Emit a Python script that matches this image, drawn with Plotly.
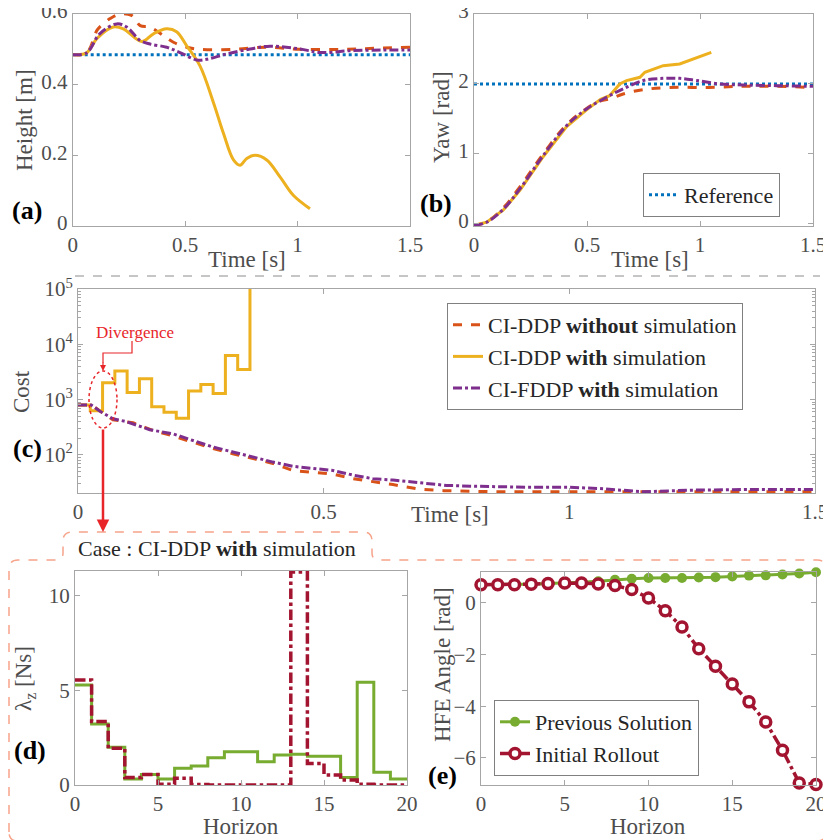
import plotly.graph_objects as go

W, H = 831, 840

# ---------------- (a) height ----------------
t_ref = [0, 1.5]
height_ref = [0.485, 0.485]

t_h_nosim = [0, 0.062, 0.107, 0.12, 0.166, 0.21, 0.262, 0.3, 0.344, 0.403, 0.448, 0.507, 0.566, 0.715, 0.863, 1.01, 1.2, 1.35, 1.5]
h_nosim = [0.485, 0.49, 0.553, 0.563, 0.587, 0.6, 0.596, 0.567, 0.563, 0.539, 0.52, 0.506, 0.5, 0.5, 0.506, 0.5, 0.5, 0.503, 0.506]

t_h_sim = [0, 0.062, 0.107, 0.18, 0.225, 0.307, 0.359, 0.418, 0.462, 0.507, 0.566, 0.626, 0.67, 0.715, 0.744, 0.774, 0.811, 0.863, 0.922, 0.981, 1.055]
h_sim = [0.485, 0.49, 0.53, 0.563, 0.558, 0.522, 0.544, 0.558, 0.55, 0.51, 0.453, 0.349, 0.263, 0.187, 0.172, 0.191, 0.2, 0.187, 0.139, 0.087, 0.049]

t_h_fddp = [0, 0.062, 0.12, 0.196, 0.24, 0.3, 0.344, 0.418, 0.477, 0.551, 0.596, 0.685, 0.789, 0.878, 1.011, 1.1, 1.233, 1.38, 1.5]
h_fddp = [0.485, 0.49, 0.544, 0.572, 0.563, 0.525, 0.515, 0.506, 0.491, 0.47, 0.472, 0.487, 0.501, 0.509, 0.501, 0.491, 0.496, 0.498, 0.498]

# ---------------- (b) yaw ----------------
yaw_ref = [2.0, 2.0]

t_y_nosim = [0, 0.056, 0.13, 0.203, 0.306, 0.41, 0.498, 0.56, 0.601, 0.66, 0.749, 0.866, 1.04, 1.19, 1.338, 1.5]
yaw_nosim = [-0.02, 0.03, 0.23, 0.53, 1.0, 1.42, 1.65, 1.76, 1.786, 1.857, 1.919, 1.95, 1.95, 1.967, 1.967, 1.95]

t_y_sim = [0, 0.056, 0.13, 0.203, 0.306, 0.41, 0.498, 0.56, 0.6, 0.645, 0.675, 0.734, 0.756, 0.837, 0.91, 0.97, 1.05]
yaw_sim = [-0.02, 0.024, 0.2, 0.48, 0.96, 1.39, 1.63, 1.78, 1.833, 2.0, 2.048, 2.095, 2.167, 2.262, 2.286, 2.357, 2.452]

t_y_fddp = [0, 0.056, 0.13, 0.203, 0.306, 0.41, 0.498, 0.586, 0.66, 0.749, 0.837, 0.91, 0.984, 1.087, 1.19, 1.338, 1.5]
yaw_fddp = [-0.02, 0.024, 0.21, 0.5, 0.976, 1.405, 1.643, 1.81, 1.93, 2.05, 2.08, 2.08, 2.05, 2.0, 1.986, 1.976, 1.967]

# ---------------- (c) cost ----------------
t_c_nosim = [0, 0.027, 0.044, 0.071, 0.112, 0.153, 0.193, 0.227, 0.275, 0.315, 0.356, 0.397, 0.438, 0.478, 0.519, 0.56, 0.6, 0.641, 0.695, 0.744, 0.85, 1.0, 1.2, 1.5]
cost_nosim = [800, 800, 630, 430, 380, 275, 220, 175, 130, 105, 85, 70, 52, 49, 45, 37, 33, 29, 24, 22.5, 21.5, 21.5, 21.5, 21.5]

t_c_sim = [0, 0.025, 0.05, 0.075, 0.1, 0.125, 0.15, 0.175, 0.2, 0.225, 0.25, 0.275, 0.3, 0.325, 0.35]
cost_sim = [800, 630, 2020, 3270, 1340, 2380, 740, 590, 460, 1430, 1880, 1290, 6300, 3500, 1e7]

t_c_fddp = [0, 0.027, 0.044, 0.071, 0.098, 0.146, 0.193, 0.234, 0.275, 0.315, 0.356, 0.397, 0.438, 0.478, 0.519, 0.56, 0.6, 0.641, 0.695, 0.75, 0.81, 0.91, 1.0, 1.06, 1.15, 1.25, 1.35, 1.5]
cost_fddp = [800, 800, 620, 450, 400, 285, 240, 182, 138, 113, 91, 74, 62, 56, 52, 43, 37, 35, 31, 28, 27, 26, 26, 24.6, 21.5, 23, 23.5, 23.5]

# ---------------- (d) lambda_z ----------------
horizon = list(range(21))
lam_prev = [5.28, 3.22, 1.99, 0.32, 0.56, 0.32, 0.88, 1.0, 1.44, 1.76, 1.76, 1.23, 1.58, 1.62, 1.52, 1.52, 0.39, 5.42, 0.67, 0.32, 0.32]
lam_roll = [5.55, 3.35, 1.94, 0.39, 0.56, 0.04, 0.35, 0.02, 0, 0, 0, 0, 0, 11.25, 1.14, 0.53, 0.26, 0.04, 0, 0, 0]

# ---------------- (e) HFE angle ----------------
hfe_prev = [0.71, 0.71, 0.71, 0.73, 0.75, 0.77, 0.8, 0.84, 0.9, 0.94, 0.97, 0.97, 0.97, 0.99, 1.0, 1.03, 1.06, 1.07, 1.1, 1.14, 1.19]
hfe_roll = [0.71, 0.71, 0.71, 0.73, 0.75, 0.77, 0.77, 0.74, 0.68, 0.52, 0.19, -0.3, -0.93, -1.77, -2.45, -3.14, -3.83, -4.61, -5.7, -6.97, -7.03]

C_REF = '#0072BD'
C_NOSIM = '#D95319'
C_SIM = '#EDB120'
C_FDDP = '#7E2F8E'
C_PREV = '#77AC30'
C_ROLL = '#A2142F'
C_RED = '#E8262A'
C_BOX = '#F7A38A'
FONT = 'Liberation Serif'

# the page body adds an 8px margin, so positions below are shifted back by it
OX, OY = 8, 5


def px(x):
    return (x - OX) / W


def py(y):
    return 1 - (y - OY) / H


fig = go.Figure()

# (a)
fig.add_trace(go.Scatter(x=t_ref, y=height_ref, mode='lines', line=dict(color=C_REF, width=3, dash='dot'),
                         xaxis='x', yaxis='y', showlegend=False))
fig.add_trace(go.Scatter(x=t_h_nosim, y=h_nosim, mode='lines', line=dict(color=C_NOSIM, width=3, dash='dash', shape='spline'),
                         xaxis='x', yaxis='y', showlegend=False))
fig.add_trace(go.Scatter(x=t_h_sim, y=h_sim, mode='lines', line=dict(color=C_SIM, width=3, shape='spline'),
                         xaxis='x', yaxis='y', showlegend=False))
fig.add_trace(go.Scatter(x=t_h_fddp, y=h_fddp, mode='lines', line=dict(color=C_FDDP, width=3, dash='dashdot', shape='spline'),
                         xaxis='x', yaxis='y', showlegend=False))

# (b)
fig.add_trace(go.Scatter(x=t_ref, y=yaw_ref, mode='lines', name='Reference', line=dict(color=C_REF, width=3, dash='dot'),
                         xaxis='x2', yaxis='y2', legend='legend'))
fig.add_trace(go.Scatter(x=t_y_nosim, y=yaw_nosim, mode='lines', line=dict(color=C_NOSIM, width=3, dash='dash', shape='spline'),
                         xaxis='x2', yaxis='y2', showlegend=False))
fig.add_trace(go.Scatter(x=t_y_sim, y=yaw_sim, mode='lines', line=dict(color=C_SIM, width=3),
                         xaxis='x2', yaxis='y2', showlegend=False))
fig.add_trace(go.Scatter(x=t_y_fddp, y=yaw_fddp, mode='lines', line=dict(color=C_FDDP, width=3, dash='dashdot', shape='spline'),
                         xaxis='x2', yaxis='y2', showlegend=False))

# (c)
fig.add_trace(go.Scatter(x=t_c_nosim, y=cost_nosim, mode='lines', name='CI-DDP <b>without</b> simulation',
                         line=dict(color=C_NOSIM, width=3, dash='dash'), xaxis='x3', yaxis='y3', legend='legend2'))
fig.add_trace(go.Scatter(x=t_c_sim, y=cost_sim, mode='lines', name='CI-DDP <b>with</b> simulation',
                         line=dict(color=C_SIM, width=3, shape='hv'), xaxis='x3', yaxis='y3', legend='legend2'))
fig.add_trace(go.Scatter(x=t_c_fddp, y=cost_fddp, mode='lines', name='CI-FDDP <b>with</b> simulation',
                         line=dict(color=C_FDDP, width=3, dash='dashdot'), xaxis='x3', yaxis='y3', legend='legend2'))

# (d)
fig.add_trace(go.Scatter(x=horizon, y=lam_prev, mode='lines', line=dict(color=C_PREV, width=3, shape='hv'),
                         xaxis='x4', yaxis='y4', showlegend=False))
fig.add_trace(go.Scatter(x=horizon, y=lam_roll, mode='lines', line=dict(color=C_ROLL, width=3.5, dash='dashdot', shape='hv'),
                         xaxis='x4', yaxis='y4', showlegend=False, cliponaxis=False))

# (e)
fig.add_trace(go.Scatter(x=horizon, y=hfe_prev, mode='lines+markers', name='Previous Solution',
                         line=dict(color=C_PREV, width=3), marker=dict(color=C_PREV, size=10),
                         xaxis='x5', yaxis='y5', legend='legend3', cliponaxis=False))
fig.add_trace(go.Scatter(x=horizon, y=hfe_roll, mode='lines+markers', name='Initial Rollout',
                         line=dict(color=C_ROLL, width=3.5, dash='dashdot'),
                         marker=dict(color='white', size=10, line=dict(color=C_ROLL, width=3.5)),
                         xaxis='x5', yaxis='y5', legend='legend3', cliponaxis=False))

ax = dict(showline=True, linecolor='#A6A6A6', linewidth=1, mirror='ticks', ticks='inside', ticklen=5,
          tickcolor='#A6A6A6', showgrid=False, zeroline=False, automargin=False, ticklabeloverflow='allow',
          tickfont=dict(family=FONT, size=21, color='#4D4D4D'))

leg_font = dict(family=FONT, size=22, color='#262626')

fig.update_layout(
    width=W, height=H, margin=dict(l=0, r=0, t=0, b=0, autoexpand=False),
    paper_bgcolor='white', plot_bgcolor='white',
    font=dict(family=FONT, size=21, color='#404040'),
    xaxis=dict(domain=[px(72.7), px(410)], anchor='y', range=[0, 1.5], tickvals=[0, 0.5, 1, 1.5], **ax),
    yaxis=dict(domain=[py(223), py(11)], anchor='x', range=[0, 0.6], tickvals=[0, 0.2, 0.4, 0.6],
               ticklabelshift=-3, **ax),
    xaxis2=dict(domain=[px(474), px(813)], anchor='y2', range=[0, 1.5], tickvals=[0, 0.5, 1, 1.5], **ax),
    yaxis2=dict(domain=[py(223), py(11)], anchor='x2', range=[-0.03, 3], tickvals=[0, 1, 2, 3],
                ticklabelshift=-3, **ax),
    xaxis3=dict(domain=[px(78), px(815)], anchor='y3', range=[0, 1.5], tickvals=[0, 0.5, 1, 1.5], **ax),
    yaxis3=dict(domain=[py(490), py(286)], anchor='x3', type='log', range=[1.31, 5.0],
                tickvals=[100, 1000, 10000, 100000],
                ticktext=['10<sup>2</sup>', '10<sup>3</sup>', '10<sup>4</sup>', '10<sup>5</sup>'],
                minor=dict(ticks='inside', ticklen=3, tickcolor='#A6A6A6',
                           tickvals=[m * 10 ** e for e in range(1, 5) for m in range(2, 10)]),
                **ax),
    xaxis4=dict(domain=[px(75), px(407)], anchor='y4', range=[0, 20], tickvals=[0, 5, 10, 15, 20], **ax),
    yaxis4=dict(domain=[py(782), py(568)], anchor='x4', range=[0, 11.3], tickvals=[0, 5, 10], **ax),
    xaxis5=dict(domain=[px(481), px(816)], anchor='y5', range=[0, 20], tickvals=[0, 5, 10, 15, 20], **ax),
    yaxis5=dict(domain=[py(782), py(569)], anchor='x5', range=[-7.05, 1.2], tickvals=[-6, -4, -2, 0], **ax),
    legend=dict(x=px(643), y=py(170), xanchor='left', yanchor='top', bgcolor='white',
                bordercolor='#808080', borderwidth=1, font=leg_font),
    legend2=dict(x=px(447), y=py(300), xanchor='left', yanchor='top', bgcolor='white',
                 bordercolor='#808080', borderwidth=1, font=leg_font),
    legend3=dict(x=px(494), y=py(697), xanchor='left', yanchor='top', bgcolor='white',
                 bordercolor='#808080', borderwidth=1, font=leg_font),
)

# shapes
box_pts = [('M', 9, 829), ('L', 9, 566), ('Q', 9, 557, 18, 557), ('L', 56, 557), ('Q', 63, 557, 63, 550),
           ('L', 63, 538), ('Q', 63, 529, 72, 529), ('L', 363, 529), ('Q', 372, 529, 372, 538),
           ('L', 372, 550), ('Q', 372, 557, 379, 557), ('L', 817, 557), ('Q', 826, 557, 826, 566),
           ('L', 826, 829), ('Q', 826, 838, 817, 838), ('L', 18, 838), ('Q', 9, 838, 9, 829)]
path = ''
for p in box_pts:
    coords = p[1:]
    pairs = ['%.5f,%.5f' % (px(coords[i]), py(coords[i + 1])) for i in range(0, len(coords), 2)]
    path += p[0] + ' ' + ' '.join(pairs) + ' '
path += 'Z'

pointer = 'M %.5f,%.5f L %.5f,%.5f L %.5f,%.5f L %.5f,%.5f' % (
    px(132), py(338), px(132), py(350), px(103), py(350), px(103), py(360))

fig.update_layout(shapes=[
    dict(type='line', xref='paper', yref='paper', x0=px(75), x1=px(820), y0=py(273), y1=py(273),
         line=dict(color='#8C8C8C', width=1, dash='dash')),
    dict(type='path', xref='paper', yref='paper', path=path, line=dict(color=C_BOX, width=1.5, dash='dash')),
    dict(type='circle', xref='paper', yref='paper', x0=px(89), x1=px(117), y0=py(425), y1=py(368),
         line=dict(color=C_RED, width=1.5, dash='dot')),
    dict(type='path', xref='paper', yref='paper', path=pointer, line=dict(color=C_RED, width=1.2)),
])


def note(txt, x, y, size, color, angle=0):
    return dict(text=txt, x=px(x), y=py(y), xref='paper', yref='paper', showarrow=False,
                xanchor='center', yanchor='middle', textangle=angle,
                font=dict(family=FONT, size=size, color=color))


annots = []
# panel labels
for txt, x, y in [('(a)', 27, 207), ('(b)', 436, 200), ('(c)', 27, 445), ('(d)', 30, 747), ('(e)', 442, 772)]:
    annots.append(note('<b>%s</b>' % txt, x, y, 26, 'black'))
# y titles
for txt, x, y in [('Height [m]', 25, 117), ('Yaw [rad]', 442, 114), ('Cost', 22, 388),
                  ('λ<sub>z</sub> [Ns]', 25, 676), ('HFE Angle [rad]', 442, 662)]:
    annots.append(note(txt, x, y, 23, '#4D4D4D', angle=-90))
# x titles
for txt, x, y in [('Time [s]', 247, 256), ('Time [s]', 650, 256), ('Time [s]', 450, 512),
                  ('Horizon', 241, 823), ('Horizon', 648, 823)]:
    annots.append(note(txt, x, y, 23, '#4D4D4D'))

annots.append(note('Case : CI-DDP <b>with</b> simulation', 217, 545, 22, '#262626'))
annots.append(note('Divergence', 135, 330, 17, C_RED))
annots.append(dict(text='', x=px(103), y=py(368), xref='paper', yref='paper', showarrow=True, ax=0, ay=-10,
                   arrowhead=2, arrowsize=1, arrowwidth=1.2, arrowcolor=C_RED))
annots.append(dict(text='', x=px(103), y=py(529), xref='paper', yref='paper', showarrow=True, ax=0, ay=-104,
                   arrowhead=2, arrowsize=1, arrowwidth=2.5, arrowcolor=C_RED))
fig.update_layout(annotations=annots)

fig.write_html("out.html")
